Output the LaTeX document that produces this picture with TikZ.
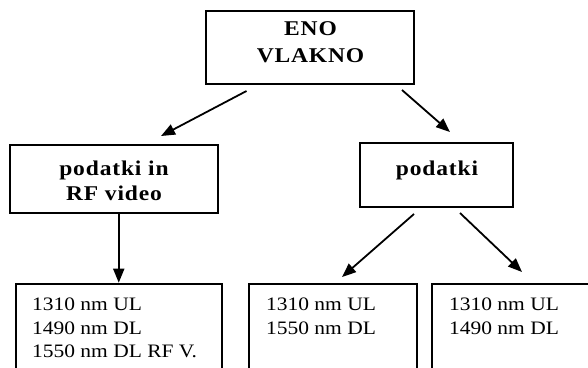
\documentclass[tikz,border=0pt]{standalone}
\usepackage{fontspec}
\setmainfont{Liberation Serif}
\usetikzlibrary{arrows.meta}
\newcommand{\headfont}[1]{\fontsize{21}{#1}\selectfont\bfseries\addfontfeature{FakeStretch=1.12,LetterSpace=4}}
\begin{document}
\begin{tikzpicture}[x=1pt,y=-1pt,
  box/.style={draw, line width=2pt, rectangle, inner sep=0pt},
  head/.style={font=\headfont{27}, align=center, inner sep=0pt},
  entry/.style={font=\fontsize{19}{23.5}\selectfont\addfontfeature{FakeStretch=1.13},
    align=left, inner sep=0pt, anchor=north west},
  link/.style={line width=1.8pt, -{Triangle[length=14pt,width=11pt]}}]
\clip (0,0) rectangle (588,367);

% upper level
\node[box, minimum width=208pt, minimum height=73pt] (top) at (310,47.5) {};
\node[head, anchor=north] (topt) at (310.5,21.7) {ENO\\VLAKNO};

% middle level
\node[box, minimum width=208pt, minimum height=68pt] (left) at (114,179) {};
\node[head, anchor=north, font=\headfont{25}] (leftt) at (114,160.7) {podatki in\\RF video};
\node[box, minimum width=153pt, minimum height=64pt] (right) at (436.5,175) {};
\node[head, anchor=base] (rightt) at (437,175.7) {podatki};

% wavelength boxes
\node[box, anchor=north west, minimum width=205.5pt, minimum height=120pt] (b1) at (15,282.7) {};
\node[box, anchor=north west, minimum width=168pt, minimum height=120pt] (b2) at (247.5,282.7) {};
\node[box, anchor=north west, minimum width=200pt, minimum height=120pt] (b3) at (431,282.7) {};
\node[entry] (b1t) at (32,298) {1310 nm UL\\1490 nm DL\\1550 nm DL RF V.};
\node[entry] (b2t) at (266,298) {1310 nm UL\\1550 nm DL};
\node[entry] (b3t) at (449,298) {1310 nm UL\\1490 nm DL};

% connectors
\draw[link] ([xshift=41.5pt,yshift=-6pt]top.south west) -- ([xshift=47pt,yshift=8pt]left.north);
\draw[link] ([xshift=-13pt,yshift=-5pt]top.south east) -- ([xshift=13.5pt,yshift=10pt]right.north);
\draw[link] (left.south -| b1.north) -- (b1.north);
\draw[link] ([xshift=-22.5pt,yshift=-6pt]right.south) -- ([xshift=9.5pt,yshift=5.7pt]b2.north);
\draw[link] ([xshift=23.5pt,yshift=-5pt]right.south) -- ([xshift=-10pt,yshift=10.7pt]b3.north);
\end{tikzpicture}
\end{document}
